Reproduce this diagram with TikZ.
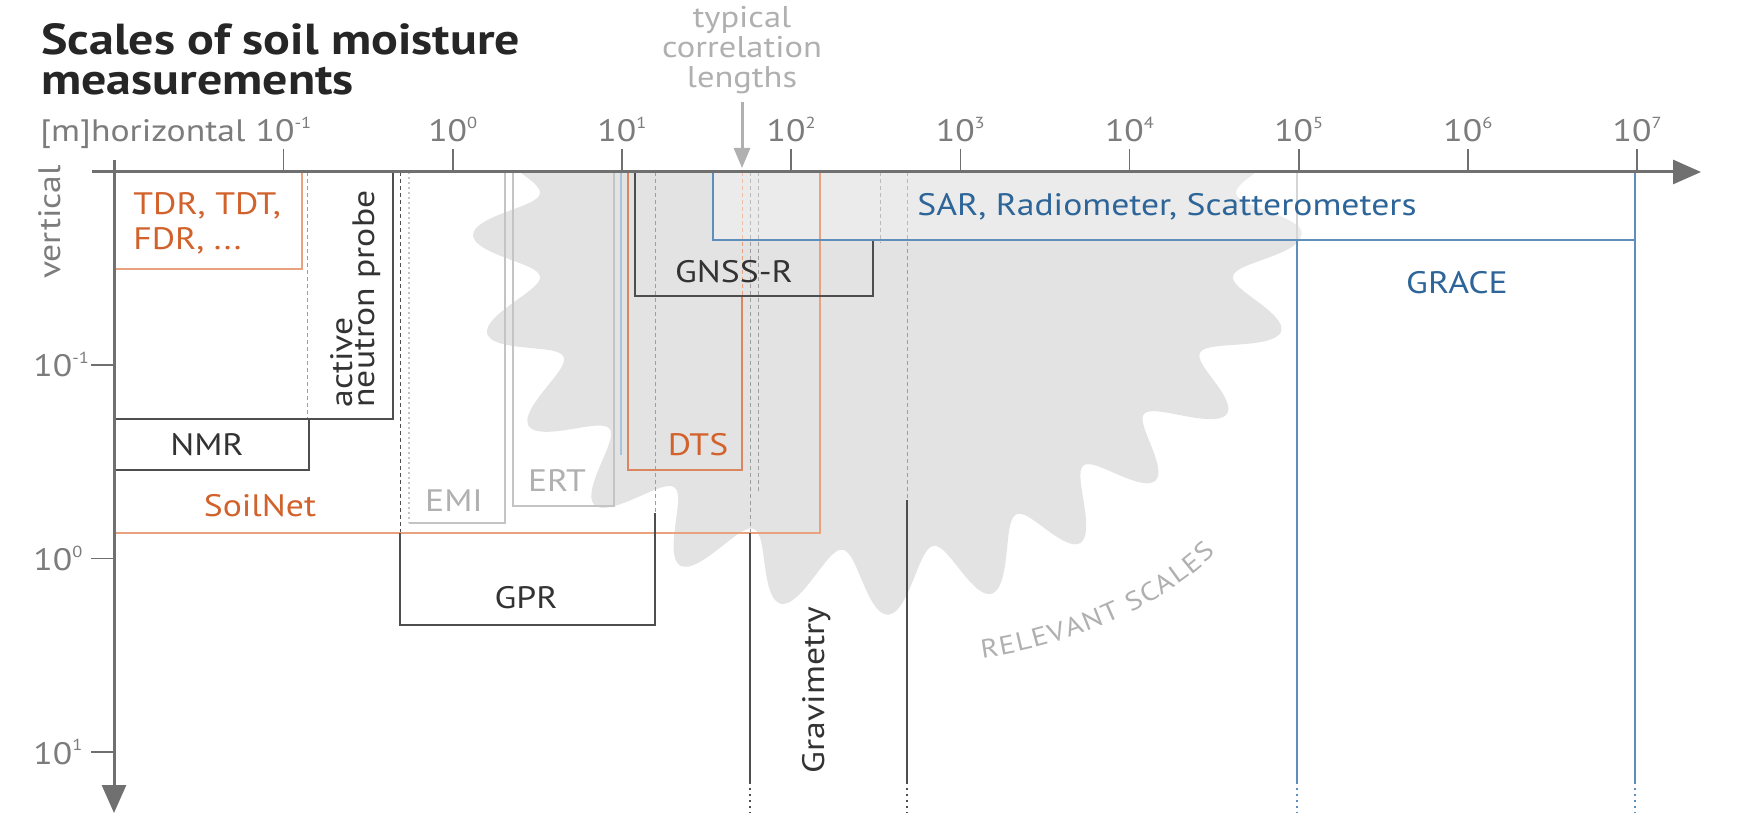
\documentclass[tikz,border=0pt]{standalone}
\usepackage{fontspec}
\setmainfont{PT Sans}[FakeStretch=1.15]
\usetikzlibrary{arrows.meta,decorations.text}
\definecolor{axisgray}{HTML}{707070}
\definecolor{tickgray}{HTML}{7C7C7C}
\definecolor{darkline}{HTML}{4E4E4E}
\definecolor{darktext}{HTML}{333333}
\definecolor{titletext}{HTML}{262626}
\definecolor{orangetext}{HTML}{D2622C}
\definecolor{orangeline}{HTML}{E9A27E}
\definecolor{orangedark}{HTML}{DC8660}
\definecolor{bluetext}{HTML}{2D6599}
\definecolor{blueline}{HTML}{5E8FBC}
\definecolor{lightblue}{HTML}{A9C3DA}
\definecolor{lightline}{HTML}{C4C4C4}
\definecolor{lighttext}{HTML}{B0B0B0}
\definecolor{blobgray}{HTML}{E3E3E3}
\definecolor{guidegray}{HTML}{9E9E9E}
\newcommand{\tsupx}[1]{\raisebox{0.85ex}{\fontsize{8}{9}\selectfont #1}}
\begin{document}
\begin{tikzpicture}[x=0.5pt,y=-0.5pt,
  lbl/.style={inner sep=0pt, font=\fontsize{15.5}{17.5}\selectfont},
  ticklbl/.style={inner sep=0pt, font=\fontsize{15.5}{17}\selectfont, text=tickgray},
  darkbox/.style={draw=darkline, line width=1pt},
  orangebox/.style={draw=orangeline, line width=0.8pt},
  bluebox/.style={draw=blueline, line width=1pt},
  lightbox/.style={draw=lightline, line width=1pt},
  guide/.style={draw=guidegray, line width=0.5pt, dash pattern=on 2pt off 1.5pt},
  dotend/.style={line width=1pt, dash pattern=on 1pt off 2pt},
  axisline/.style={draw=axisgray, line width=1.5pt},
  tickline/.style={draw=axisgray, line width=0.8pt}
]
\useasboundingbox (0,0) rectangle (1747,823);
\fill[white] (0,0) rectangle (1747,823);

% relevant-scales blob
\begin{scope}
  \clip (0,173) rectangle (1747,823);
  \fill[blobgray] plot[smooth cycle, samples=360, domain=0:359]
    ({888+(383+32*cos(24*\x))*(1-0.09*exp(-((\x-47)/26)^2))*cos(\x)},
     {235+(350+32*cos(24*\x))*(1-0.09*exp(-((\x-47)/26)^2))*sin(\x)});
\end{scope}
\path[decorate, decoration={text along path, text align={fit to path},
  text={|\fontsize{13}{15}\selectfont\color{lighttext}|RELEVANT SCALES}}]
  (982,658) .. controls (1060,648) and (1160,610) .. (1216,553);

% guide lines
\draw[guide] (307,172) -- (307,419);
\draw[guide, draw=darkline] (400,172) -- (400,533);
\draw[lightline, line width=0.8pt, dash pattern=on 1pt off 1.5pt] (409,172) -- (409,523);
\draw[guide] (655,172) -- (655,513);
\draw[guide, draw=orangeline] (742,172) -- (742,296);
\draw[guide] (750,172) -- (750,533);
\draw[guide] (758,172) -- (758,493);
\draw[guide] (880,172) -- (880,243);
\draw[guide] (907,172) -- (907,500);
\draw[lightline, line width=0.6pt] (1297,172) -- (1297,240);
\draw[lightblue, line width=0.8pt] (621,172) -- (621,455);

% SAR box (slight veil)
\fill[white, fill opacity=0.3] (713,172) rectangle (1635,240);

% boxes
\draw[orangebox] (114,269) -| (302,172);
\draw[darkbox] (114,419) -| (393,172);
\draw[darkbox] (114,470) -| (309,419);
\draw[orangebox] (114,533) -| (820,172);
\draw[lightbox] (409,523) -| (505,172);
\draw[lightbox] (513,172) |- (614,506) -- (614,172);
\draw[darkbox] (400,533) |- (655,625) -- (655,513);
\draw[orangebox, draw=orangedark] (628,172) |- (742,470) -- (742,296);
\draw[darkbox] (635,172) |- (873,296) -- (873,240);
\draw[bluebox] (713,172) |- (1635,240);
\draw[bluebox] (1297,240) -- (1297,782);
\draw[bluebox] (1635,172) -- (1635,782);
\draw[blueline, dotend] (1297,782) -- (1297,813);
\draw[blueline, dotend] (1635,782) -- (1635,813);
\draw[darkbox] (750,533) -- (750,782);
\draw[darkbox] (907,500) -- (907,782);
\draw[darkline, dotend] (750,782) -- (750,813);
\draw[darkline, dotend] (907,782) -- (907,813);

% axes
\draw[axisline, -{Triangle[length=14pt,width=12pt]}] (92,172) -- (1701,172);
\draw[axisline, -{Triangle[length=14pt,width=12pt]}] (114,160) -- (114,813);
\foreach \k/\e in {0/-1,1/0,2/1,3/2,4/3,5/4,6/5,7/6,8/7} {
  \pgfmathsetmacro{\tx}{283.5+169.2*\k}
  \draw[tickline] (\tx,149) -- (\tx,172);
  \node[ticklbl, anchor=base] (xt\k) at (\tx,142) {10\tsupx{\e}};
}
\foreach \yy/\e in {365/-1,558.5/0,752/1} {
  \draw[tickline] (91,\yy) -- (114,\yy);
  \node[ticklbl, anchor=base west] at (33,\yy+12) {10\tsupx{\e}};
}
\node[ticklbl, anchor=base west] (hor) at (40,142) {[m]horizontal};
\node[ticklbl, rotate=90] (ver) at (50,222) {vertical};

% title
\node[inner sep=0pt, anchor=base west, text=titletext, font=\bfseries\fontsize{21.7}{24}\selectfont] (t1) at (41,55) {Scales of soil moisture};
\node[inner sep=0pt, anchor=base west, text=titletext, font=\bfseries\fontsize{21.7}{24}\selectfont] (t2) at (41,95) {measurements};

% typical correlation lengths
\node[ticklbl, text=lighttext, align=center, font=\fontsize{15}{15}\selectfont] (tcl) at (742,50) {typical\\correlation\\lengths};
\coordinate (tclend) at (742,168);
\draw[lighttext, line width=1.5pt, -{Triangle[length=10pt,width=8pt]}] ([yshift=-4pt]tcl.south) -- (tclend);

% labels
\node[lbl, text=orangetext, align=left, anchor=north west] (tdr) at (133,192) {TDR, TDT,\\FDR, ...};
\node[lbl, text=darktext, rotate=90, anchor=base west] (anp1) at (352,408) {active};
\node[lbl, text=darktext, rotate=90, anchor=base west] (anp2) at (374,408) {neutron probe};
\node[lbl, text=darktext] (nmr) at (207,445) {NMR};
\node[lbl, text=orangetext] (soil) at (260,506) {SoilNet};
\node[lbl, text=lighttext] (emi) at (454,501) {EMI};
\node[lbl, text=lighttext] (ert) at (557,481) {ERT};
\node[lbl, text=darktext] (gpr) at (526,598) {GPR};
\node[lbl, text=orangetext] (dts) at (698,445) {DTS};
\node[lbl, text=darktext] (gnss) at (734,272) {GNSS-R};
\node[lbl, text=bluetext, anchor=west] (sar) at (917,207) {SAR, Radiometer, Scatterometers};
\node[lbl, text=bluetext] (grace) at (1457,283) {GRACE};
\node[lbl, text=darktext, rotate=90] (grav) at (817,690) {Gravimetry};
\end{tikzpicture}
\end{document}
